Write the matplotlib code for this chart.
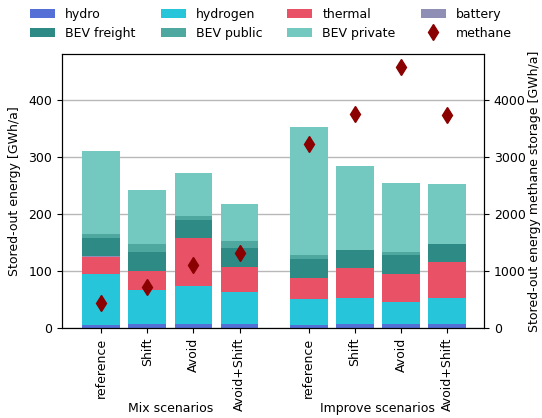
import numpy as np
import matplotlib.pyplot as plt

plt.rcParams["font.size"] = 9

# escenarios y energia almacenada-extraida por tecnologia [GWh/a]
escenarios = ["reference", "Shift", "Avoid", "Avoid+Shift",
              "reference", "Shift", "Avoid", "Avoid+Shift"]
grupos = ["Mix scenarios", "Improve scenarios"]

hydro = [5, 7.5, 7.5, 7.5, 4.5, 6.5, 6.5, 6.5]
hydrogen = [90, 59.5, 66.5, 55.5, 45.5, 45.5, 39.5, 46.5]
thermal = [30, 32.5, 83.5, 43.5, 38, 53.5, 49, 62]
battery = [1.5, 0, 0, 0, 0, 0, 0, 1]
bev_freight = [32, 33, 32.5, 33.5, 33, 31.5, 33.5, 31.5]
bev_public = [6.5, 14, 5.5, 12, 7, 0.5, 5.5, 0.5]
bev_private = [145, 94.5, 76.5, 66, 224, 147, 120, 104.5]
methane = [430, 720, 1105, 1320, 3220, 3750, 4570, 3730]

series = [
    ("hydro", hydro, "#5470d6"),
    ("hydrogen", hydrogen, "#26c5d9"),
    ("thermal", thermal, "#e85166"),
    ("battery", battery, "#8f8fb5"),
    ("BEV freight", bev_freight, "#2e8a84"),
    ("BEV public", bev_public, "#4fa8a0"),
    ("BEV private", bev_private, "#73c9c0"),
]

x = np.array([0, 1, 2, 3, 4.5, 5.5, 6.5, 7.5])

fig = plt.figure(figsize=(5.42, 4.18), dpi=100)
ax = fig.add_axes([0.1144, 0.2153, 0.7786, 0.6555])
ax2 = ax.twinx()

base = np.zeros(len(x))
handles = {}
for nombre, valores, color in series:
    b = ax.bar(x, valores, 0.82, bottom=base, color=color, label=nombre, zorder=2)
    handles[nombre] = b
    base += np.array(valores)

m, = ax2.plot(x, methane, linestyle="none", marker="d", markersize=8.5,
              color="#8b0000", label="methane")
handles["methane"] = m

ax.set_axisbelow(True)
ax.yaxis.grid(True, color="#b8b8b8", linewidth=1)
ax.set_ylim(0, 480)
ax2.set_ylim(0, 4800)
ax.set_xlim(-0.85, 8.3)
ax.set_yticks([0, 100, 200, 300, 400])
ax2.set_yticks([0, 1000, 2000, 3000, 4000])
ax.set_xticks(x)
ax.set_xticklabels(escenarios, rotation=90)
ax.set_ylabel("Stored-out energy [GWh/a]", labelpad=5)
ax2.set_ylabel("Stored-out energy methane storage [GWh/a]", labelpad=2)

# etiquetas de grupo bajo los nombres de escenario
trans = ax.get_xaxis_transform()
ax.text(1.5, -0.295, grupos[0], transform=trans, ha="center", va="center")
ax.text(6.0, -0.295, grupos[1], transform=trans, ha="center", va="center")

orden = ["hydro", "BEV freight", "hydrogen", "BEV public",
         "thermal", "BEV private", "battery", "methane"]
fig.legend([handles[n] for n in orden], orden, ncol=4, frameon=False,
           loc="upper center", bbox_to_anchor=(0.5, 1.008),
           handlelength=2.0, columnspacing=2.0, handletextpad=0.8,
           labelspacing=0.45)

fig.savefig("out.png", dpi=100)
